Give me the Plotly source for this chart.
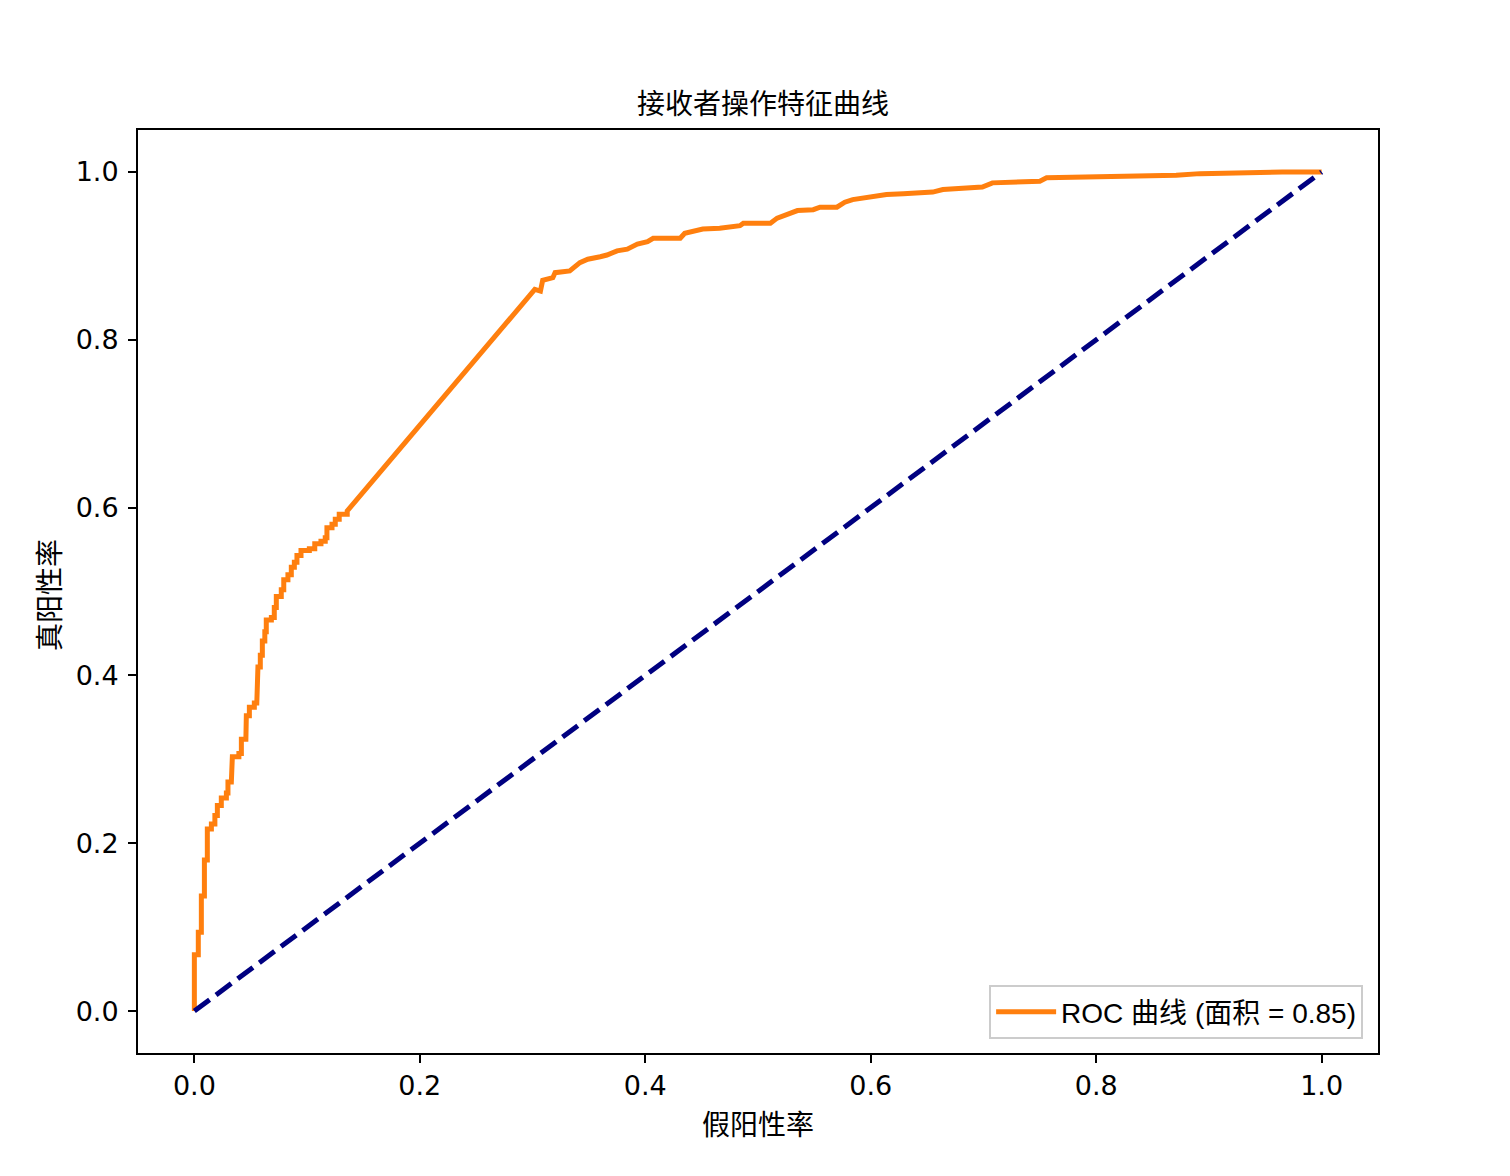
import plotly.graph_objects as go

# ---- data ----
# lower staircase: each step rises vertically at step_fpr to step_tpr
step_fpr = [0.0, 0.0035, 0.0062, 0.0089, 0.0115, 0.0151, 0.0182, 0.0204, 0.0239, 0.0284,
            0.0298, 0.0328, 0.0337, 0.0395, 0.0417, 0.0457, 0.0461, 0.0488, 0.0532, 0.0554,
            0.0564, 0.0585, 0.0603, 0.0625, 0.0638, 0.0683, 0.0709, 0.0727, 0.0771, 0.0793,
            0.0830, 0.0860, 0.0887, 0.0910, 0.0946, 0.1020, 0.1068, 0.1123, 0.1161, 0.1176,
            0.1221, 0.1250, 0.1285, 0.1356]
step_tpr = [0.067, 0.094, 0.137, 0.180, 0.217, 0.223, 0.233, 0.245, 0.254, 0.260,
            0.273, 0.288, 0.303, 0.307, 0.324, 0.330, 0.352, 0.362, 0.367, 0.373,
            0.410, 0.424, 0.441, 0.452, 0.466, 0.469, 0.481, 0.494, 0.502, 0.514,
            0.520, 0.529, 0.535, 0.543, 0.549, 0.551, 0.557, 0.560, 0.564, 0.576,
            0.580, 0.586, 0.592, 0.596]
# upper part of the curve
upper_fpr = [0.302, 0.307, 0.309, 0.318, 0.320, 0.333, 0.342, 0.349, 0.360, 0.366,
             0.375, 0.384, 0.393, 0.402, 0.407, 0.431, 0.435, 0.444, 0.451, 0.466,
             0.484, 0.487, 0.511, 0.517, 0.526, 0.535, 0.549, 0.555, 0.570, 0.577,
             0.584, 0.597, 0.614, 0.629, 0.655, 0.664, 0.699, 0.708, 0.750, 0.756,
             0.803, 0.832, 0.871, 0.892, 0.921, 0.963, 0.965, 1.0]
upper_tpr = [0.860, 0.858, 0.871, 0.874, 0.880, 0.882, 0.892, 0.896, 0.899, 0.901,
             0.906, 0.908, 0.914, 0.917, 0.921, 0.921, 0.927, 0.929, 0.932, 0.933,
             0.936, 0.939, 0.939, 0.945, 0.949, 0.954, 0.955, 0.958, 0.958, 0.964,
             0.967, 0.970, 0.973, 0.974, 0.976, 0.979, 0.982, 0.987, 0.989, 0.993,
             0.994, 0.995, 0.996, 0.998, 0.999, 0.999, 1.0, 1.0]
roc_auc = 0.85
diag = [0.0, 1.0]
tick_vals = [0.0, 0.2, 0.4, 0.6, 0.8, 1.0]
tick_text = ["0.0", "0.2", "0.4", "0.6", "0.8", "1.0"]

title_text = "接收者操作特征曲线"
x_title = "假阳性率"
y_title = "真阳性率"
legend_label = f"ROC 曲线 (面积 = {roc_auc:.2f})"

# build the staircase corners
fpr, tpr = [0.0], [0.0]
prev = 0.0
for f, t in zip(step_fpr, step_tpr):
    fpr += [f, f]
    tpr += [prev, t]
    prev = t
fpr += upper_fpr
tpr += upper_tpr

CJK = "Noto Sans CJK SC"
LEG = "Liberation Sans, Noto Sans CJK SC"
TICK = "DejaVu Sans"

fig = go.Figure()
fig.add_trace(go.Scatter(x=fpr, y=tpr, mode="lines", name=legend_label,
                         line=dict(color="#ff7f0e", width=5)))
fig.add_trace(go.Scatter(x=diag, y=diag, mode="lines", showlegend=False,
                         line=dict(color="#000080", width=5, dash="19px,8px")))

axis_common = dict(range=[-0.05, 1.05], tickvals=tick_vals, ticktext=tick_text,
                   showgrid=False, zeroline=False, showline=True, mirror=True,
                   linecolor="black", linewidth=2, ticks="outside", ticklen=8,
                   tickwidth=2, tickcolor="black",
                   tickfont=dict(family=TICK, size=27, color="black"))

fig.update_layout(
    width=1510, height=1176,
    paper_bgcolor="white", plot_bgcolor="white",
    margin=dict(l=130, r=140, t=122, b=131),
    title=dict(text=title_text, x=0.5, xanchor="center", y=1 - 96 / 1176, yanchor="middle",
               font=dict(family=CJK, size=28, color="black")),
    xaxis=dict(axis_common, ticklabelstandoff=0),
    yaxis=dict(axis_common, ticklabelstandoff=4),
    showlegend=True,
    legend=dict(x=0.988, y=0.0152, xanchor="right", yanchor="bottom",
                bgcolor="white", bordercolor="#cccccc", borderwidth=2,
                font=dict(family=LEG, size=28, color="black"),
                itemwidth=60),
    annotations=[
        dict(text=x_title, xref="paper", yref="paper", x=0.5, y=-(1123 - 1053) / 923,
             xanchor="center", yanchor="middle", showarrow=False,
             font=dict(family=CJK, size=28, color="black")),
        dict(text=y_title, xref="paper", yref="paper", x=-(138 - 48) / 1240, y=(1053 - 595) / 923,
             xanchor="center", yanchor="middle", showarrow=False, textangle=-90,
             font=dict(family=CJK, size=28, color="black")),
    ],
)

fig.write_html("out.html")
